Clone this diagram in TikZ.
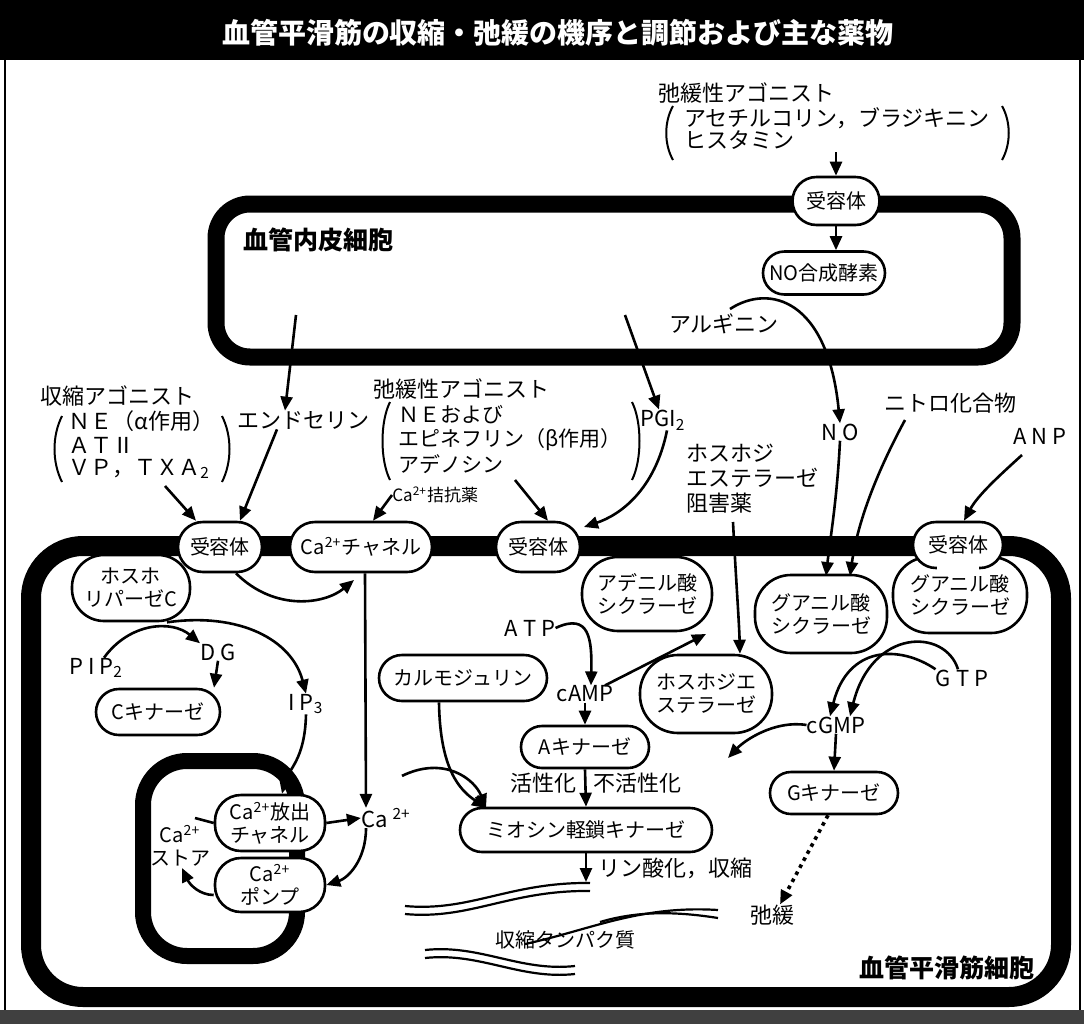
\documentclass[tikz,border=0pt]{standalone}
\usepackage{fontspec}
\setmainfont{Noto Sans CJK JP}
\usetikzlibrary{arrows.meta}
\newcommand\ndf{\fontsize{10}{11.5}\selectfont}
\newcommand\lbf{\fontsize{11}{12.3}\selectfont}
\begin{document}
\begin{tikzpicture}[x=0.5pt,y=-0.5pt,
  nd/.style={draw, line width=1.3pt, fill=white, rounded corners=#1, align=center, inner sep=1pt, font=\ndf},
  nd/.default=11pt,
  lb/.style={inner sep=0pt, font=\lbf, align=left},
  arr/.style={line width=1.3pt, -{Triangle[length=7pt,width=6pt]}},
  ln/.style={line width=1.3pt},
  paren/.style={line width=1pt},
  wave/.style={line width=1.1pt}
]
\useasboundingbox (0,0) rectangle (1084,1024);
\fill[white] (0,0) rectangle (1084,1024);
% title bar and frame
\fill[black] (0,0) rectangle (1084,60);
\node[text=white, font=\fontsize{14}{16}\selectfont\bfseries, inner sep=0pt] (title) at (558,33) {血管平滑筋の収縮・弛緩の機序と調節および主な薬物};
\fill[black!75] (0,1010) rectangle (1084,1024);
\draw[line width=1pt] (5,60) -- (5,1010);
\draw[line width=1pt] (1080,60) -- (1080,1010);

% membranes
\draw[line width=8.5pt, rounded corners=17pt] (216,204) rectangle (1012,357);
\draw[line width=10pt, rounded corners=26pt] (31,546) rectangle (1061,997);
\draw[line width=8pt, rounded corners=22pt] (143,761) rectangle (297,956);

% nodes
\node[nd=12pt, minimum width=43.5pt, minimum height=24pt] (rec0) at (836,201) {受容体};
\node[nd=10.75pt, minimum width=61pt, minimum height=21.5pt] (nos) at (824,273) {NO合成酵素};
\node[nd=12.5pt, minimum width=42pt, minimum height=25pt] (rec1) at (220,547) {受容体};
\node[nd=12.5pt, minimum width=71pt, minimum height=25pt] (cach) at (361,547) {Ca\textsuperscript{2+}チャネル};
\node[nd=12.5pt, minimum width=42pt, minimum height=25pt] (rec2) at (538,547) {受容体};
\node[nd=18pt, minimum width=67pt, minimum height=38pt] (gc2) at (960,595) {グアニル酸\\シクラーゼ};
\node[nd=11.5pt, minimum width=45pt, minimum height=23pt] (rec3) at (958,545) {受容体};
\fill[white] (937,556) rectangle (979,571);
\node[nd=18pt, minimum width=66pt, minimum height=39pt] (gc1) at (821,614) {グアニル酸\\シクラーゼ};
\node[nd=18pt, minimum width=65pt, minimum height=37pt] (ac) at (647,594) {アデニル酸\\シクラーゼ};
\node[nd=16pt, minimum width=59pt, minimum height=33pt] (plc) at (131,588) {ホスホ\\リパーゼC};
\node[nd=11.5pt, minimum width=62pt, minimum height=23pt] (ck) at (158,712) {Cキナーゼ};
\node[nd=11.5pt, minimum width=84pt, minimum height=23pt] (calm) at (463,678) {カルモジュリン};
\node[nd=19pt, minimum width=66pt, minimum height=39pt] (pde) at (706,694) {ホスホジエ\\ステラーゼ};
\node[nd=10.5pt, minimum width=64pt, minimum height=21pt] (ak) at (585,747) {Aキナーゼ};
\node[nd=11pt, minimum width=126pt, minimum height=22pt] (mlck) at (586,830) {ミオシン軽鎖キナーゼ};
\node[nd=10.5pt, minimum width=64pt, minimum height=21pt] (gk) at (834,793) {Gキナーゼ};
\node[nd=13pt, minimum width=55pt, minimum height=28pt] (rel) at (270,823) {Ca\textsuperscript{2+}放出\\チャネル};
\node[nd=13pt, minimum width=55pt, minimum height=27pt] (pump) at (270,885) {Ca\textsuperscript{2+}\\ポンプ};

% cell labels
\node[font=\fontsize{12.5}{14}\selectfont\bfseries, anchor=west, inner sep=0pt] (endolab) at (243,240) {血管内皮細胞};
\node[font=\fontsize{12.5}{14}\selectfont\bfseries, anchor=east, inner sep=0pt] (smclab) at (1035,968) {血管平滑筋細胞};

% top relaxing agonists
\node[lb, anchor=west] (agt) at (658,93) {弛緩性アゴニスト};
\node[lb, anchor=west] (agt2) at (684,118) {アセチルコリン，ブラジキニン};
\node[lb, anchor=west] (agt3) at (684,140) {ヒスタミン};
\draw[paren] (673,106) .. controls (664,122) and (664,144) .. (673,160);
\draw[paren] (1002,106) .. controls (1011,122) and (1011,144) .. (1002,160);
\coordinate (agtS) at (836,152);
\draw[arr] (agtS) -- (rec0.north);
\draw[arr] (rec0.south) -- (rec0.south |- nos.north);

% arginine / NO
\node[lb] (arg) at (724,324) {アルギニン};
\coordinate (argS) at (730,309);
\node[lb] (no) at (840,432) {N O};
\draw[arr] (argS) .. controls (770,283) and (828,300) .. (no.north);

\node[lb] (nitro) at (950,403) {ニトロ化合物};
\node[lb] (anp) at (1040,436) {A N P};
\coordinate (gc1a) at (826,576);
\coordinate (gc1b) at (850,576);
\draw[arr] (no.south) .. controls (837,500) and (830,540) .. (gc1a);
\coordinate (nitroS) at (905,420);
\draw[arr] (nitroS) .. controls (878,470) and (858,520) .. (gc1b);
\coordinate (anpS) at (1022,455);
\draw[arr] (anpS) .. controls (1000,475) and (978,495) .. ([xshift=3pt]rec3.north);

% endothelin
\coordinate (endoA) at (296,315);
\node[lb] (et) at (303,420) {エンドセリン};
\draw[arr] (endoA) -- ([xshift=-9pt]et.north);
\draw[arr] ([xshift=-13pt]et.south) -- ([xshift=10pt]rec1.north);

% contracting agonists
\node[lb, anchor=west] (cag) at (40,396) {収縮アゴニスト};
\node[lb, anchor=west] (cag1) at (68,421) {ＮＥ（α作用）};
\node[lb, anchor=west] (cag2) at (68,445) {ＡＴⅡ};
\node[lb, anchor=west] (cag3) at (68,469) {ＶＰ，ＴＸＡ\textsubscript{2}};
\draw[paren] (62,416) .. controls (52,436) and (52,462) .. (62,482);
\draw[paren] (222,416) .. controls (232,436) and (232,462) .. (222,482);
\coordinate (cagS) at (165,486);
\draw[arr] (cagS) -- ([xshift=-12pt]rec1.north);

% middle relaxing agonists
\node[lb, anchor=west] (mag) at (373,389) {弛緩性アゴニスト};
\node[lb, anchor=west, font=\fontsize{10.5}{12}\selectfont] (mag1) at (398,415) {ＮＥおよび};
\node[lb, anchor=west, font=\fontsize{10.5}{12}\selectfont] (mag2) at (398,440) {エピネフリン（β作用）};
\node[lb, anchor=west, font=\fontsize{10.5}{12}\selectfont] (mag3) at (398,464) {アデノシン};
\draw[paren] (390,402) .. controls (380,422) and (380,460) .. (390,480);
\draw[paren] (632,402) .. controls (642,422) and (642,460) .. (632,480);
\coordinate (magS) at (515,480);
\draw[arr] (magS) -- ([xshift=5pt]rec2.north);

\node[lb] (pgi) at (663,420) {PGI\textsubscript{2}};
\coordinate (endoB) at (625,315);
\draw[arr] (endoB) -- ([xshift=-2pt]pgi.north);
\coordinate (rec2r) at (584,527);
\draw[arr] ([xshift=2pt]pgi.south) .. controls (655,490) and (620,515) .. (rec2r);

\node[lb, anchor=west, font=\fontsize{8.5}{10}\selectfont] (caant) at (392,495) {Ca\textsuperscript{2+}拮抗薬};
\draw[arr] (caant.west) -- ([xshift=6pt]cach.north);

\node[lb, anchor=north west] (pdei) at (686,444) {ホスホジ\\エステラーゼ\\阻害薬};
\coordinate (pdeiS) at (733,522);
\draw[arr] (pdeiS) .. controls (736,580) and (739,620) .. ([xshift=17pt]pde.north);

% PLC pathway
\node[lb] (dg) at (218,652) {D G};
\node[lb] (pip) at (96,668) {P I P\textsubscript{2}};
\node[lb] (ip3) at (306,704) {I P\textsubscript{3}};
\draw[arr] ([xshift=4pt]pip.north) .. controls (130,622) and (172,620) .. (dg.north west);
\draw[arr] ([xshift=18pt]plc.south) .. controls (240,612) and (292,640) .. (ip3.north);
\draw[arr] (dg.south) -- ([xshift=28pt]ck.north);
\draw[arr] (ip3.south) .. controls (305,760) and (288,770) .. ([xshift=6pt]rel.north);

\coordinate (cachin) at (354,580);
\draw[arr] ([xshift=8pt]rec1.south) .. controls (275,612) and (325,604) .. (cachin);

% Ca2+
\node[lb] (ca2) at (386,818) {Ca \textsuperscript{2+}};
\draw[arr] ([xshift=2pt]cach.south) -- ([xshift=-10pt]ca2.north);
\draw[arr] (rel.east) -- (ca2.west);
\draw[arr] ([xshift=-10pt]ca2.south) .. controls (366,860) and (348,878) .. (pump.east);
\coordinate (storeIn) at (182,868);
\draw[arr] ([yshift=-5pt]pump.west) .. controls (200,895) and (190,885) .. (storeIn);
\coordinate (relL) at (195,818);
\draw[ln] (rel.west) -- (relL);
\node[lb, align=center, font=\ndf] (storelab) at (180,846) {Ca\textsuperscript{2+}\\ストア};

% calmodulin / MLCK
\coordinate (mlckIn) at (486,808);
\draw[arr] ([xshift=8pt,yshift=16pt]ca2.north) .. controls (445,755) and (475,780) .. (mlckIn);
\draw[arr] ([xshift=-12pt]calm.south) .. controls (440,770) and (460,790) .. (mlckIn);

% cAMP
\node[lb] (atp) at (530,628) {A T P};
\node[lb] (camp) at (585,694) {cAMP};
\draw[arr] (atp.east) .. controls (590,612) and (592,640) .. ([xshift=3pt]camp.north);
\coordinate (ampT) at (706,634);
\draw[arr] ([xshift=10pt]camp.north) -- (ampT);
\draw[arr] (camp.south) -- (ak.north);
\draw[arr] (ak.south) -- (mlck.north);
\node[lb, anchor=east] (act) at (577,783) {活性化};
\node[lb, anchor=west] (inact) at (593,783) {不活性化};
\coordinate (phos) at (586,882);
\draw[arr] (mlck.south) -- (phos);
\node[lb, anchor=west] (phl) at (598,868) {リン酸化，収縮};

% contractile proteins
\node[lb, font=\fontsize{10}{12}\selectfont] (cp) at (565,940) {収縮タンパク質};
\draw[wave] (405,906) .. controls (470,912) and (510,882) .. (590,883);
\draw[wave] (405,914) .. controls (470,920) and (510,890) .. (590,891);
\draw[wave] (525,944) .. controls (590,930) and (640,905) .. (718,910);
\draw[wave] (600,922) .. controls (640,910) and (680,912) .. (718,918);
\draw[wave] (425,950) .. controls (480,944) and (520,972) .. (575,966);
\draw[wave] (425,958) .. controls (480,952) and (520,980) .. (575,974);

% cGMP
\node[lb] (gtp) at (962,678) {G T P};
\node[lb] (cgmp) at (836,725) {cGMP};
\draw[arr] (gtp.north west) .. controls (900,645) and (848,645) .. ([xshift=-3pt]cgmp.north);
\draw[arr] ([xshift=-2pt]gtp.north) .. controls (945,628) and (872,628) .. ([xshift=7pt]cgmp.north);
\coordinate (pdeArr) at (728,758);
\draw[arr] (cgmp.west) .. controls (775,720) and (745,740) .. (pdeArr);
\draw[arr] (cgmp.south) -- (gk.north);
\node[lb] (relax) at (772,915) {弛緩};
\draw[line width=1.8pt, dash pattern=on 1.8pt off 2.2pt, -{Triangle[length=7pt,width=6pt]}] ([xshift=-3pt]gk.south) -- ([xshift=4pt]relax.north);
\end{tikzpicture}
\end{document}
